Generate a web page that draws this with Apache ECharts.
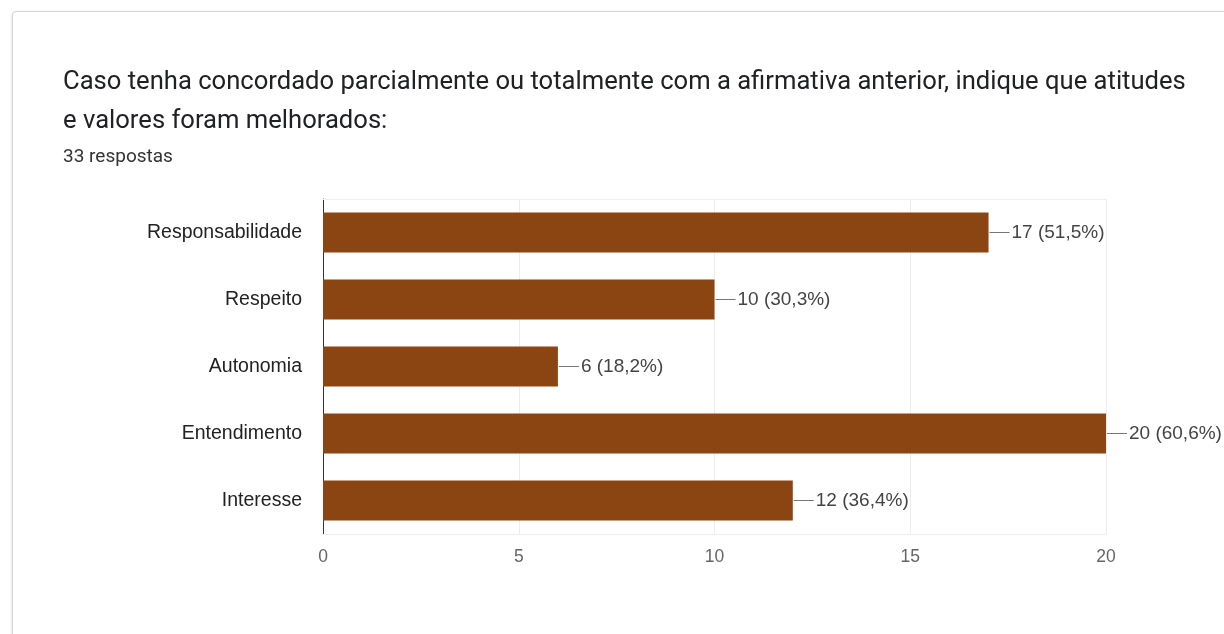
<!DOCTYPE html>
<html>
<head>
<meta charset="utf-8">
<script src="https://cdn.jsdelivr.net/npm/echarts@6/dist/echarts.min.js"></script>
<style>
  html, body { margin: 0; padding: 0; background: #fff; width: 1224px; height: 634px; overflow: hidden; }
  #card { position: absolute; left: 12px; top: 11px; width: 1300px; height: 700px; border: 1px solid #d6d6d6; border-radius: 4px; box-shadow: 0 1px 3px rgba(0,0,0,0.18); background: #fff; }
  #chart { position: absolute; left: 0; top: 0; width: 1224px; height: 634px; }
</style>
</head>
<body>
<div id="card"></div>
<div id="chart"></div>
<script>
// Survey question, answer options and response counts
const questionTitle = 'Caso tenha concordado parcialmente ou totalmente com a afirmativa anterior, indique que atitudes\ne valores foram melhorados:';
const responsesLabel = '33 respostas';
const totalResponses = 33;
const categories = ['Responsabilidade', 'Respeito', 'Autonomia', 'Entendimento', 'Interesse'];
const counts = [17, 10, 6, 20, 12];
const xTicks = { min: 0, max: 20, interval: 5 };

const headFont = 'Roboto, Arial, sans-serif';
const chartFont = '"Liberation Sans", Arial, sans-serif';

function pctText(v) {
  return (v / totalResponses * 100).toFixed(1).replace('.', ',') + '%';
}

const chart = echarts.init(document.getElementById('chart'));
chart.setOption({
  backgroundColor: 'transparent',
  textStyle: { fontFamily: chartFont },
  title: {
    text: questionTitle,
    subtext: responsesLabel,
    left: 58,
    top: 58,
    itemGap: 7,
    textStyle: { fontSize: 25.6, fontWeight: 'normal', color: '#202124', lineHeight: 39, fontFamily: headFont },
    subtextStyle: { fontSize: 19, color: '#333', lineHeight: 18, fontFamily: headFont }
  },
  grid: { left: 323, right: 118, top: 199, bottom: 100, containLabel: false },
  xAxis: [{
    type: 'value',
    min: xTicks.min, max: xTicks.max, interval: xTicks.interval,
    axisLine: { show: true, lineStyle: { color: '#eeeeee' } },
    axisTick: { show: false },
    axisLabel: { fontSize: 17.5, color: '#666', margin: 14, fontFamily: chartFont },
    splitLine: { lineStyle: { color: '#ececec' } }
  }, {
    type: 'value', position: 'top',
    min: xTicks.min, max: xTicks.max,
    axisLine: { show: true, lineStyle: { color: '#f0f0f0' } },
    axisTick: { show: false }, axisLabel: { show: false }, splitLine: { show: false }
  }],
  yAxis: {
    type: 'category',
    data: categories,
    inverse: true,
    axisLine: { show: true, lineStyle: { color: '#333', width: 1 } },
    axisTick: { show: false },
    axisLabel: { fontSize: 19.5, color: '#222', margin: 21, fontFamily: chartFont }
  },
  series: [{
    type: 'bar',
    data: counts,
    barCategoryGap: '40%',
    itemStyle: { color: '#8b4513' },
    label: {
      show: true,
      position: 'right',
      distance: 1,
      formatter: p => '{l|}{t|' + p.value + ' (' + pctText(p.value) + ')}',
      rich: {
        l: { width: 20, height: 1, backgroundColor: '#777', verticalAlign: 'middle' },
        t: { fontSize: 19, color: '#444', padding: [0, 0, 0, 2], fontFamily: chartFont }
      }
    }
  }]
});
</script>
</body>
</html>
